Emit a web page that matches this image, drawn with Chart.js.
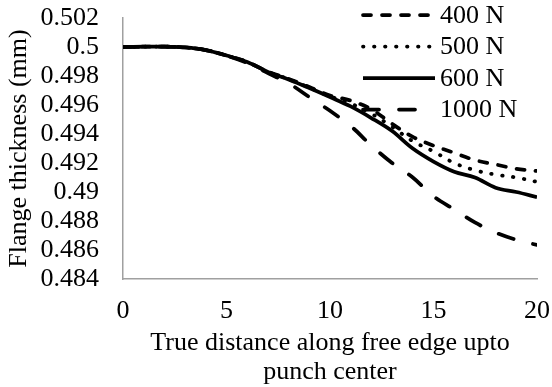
<!DOCTYPE html>
<html>
<head>
<meta charset="utf-8">
<script src="https://cdn.jsdelivr.net/npm/chart.js@4"></script>
<style>
  html, body { margin: 0; padding: 0; background: #fff; }
  #wrap { width: 552px; height: 387px; }
</style>
</head>
<body>
<div id="wrap"><canvas id="grafico"></canvas></div>
<script>
// distancia a lo largo del borde libre (mm) y espesor de pestaña (mm)
const distancia = [0, 1, 2, 3, 4, 5, 6, 7, 8, 9, 10, 11, 12, 13, 14, 15, 16, 17, 18, 19, 20];
const esp400 = [0.5, 0.50002, 0.50003, 0.49997, 0.49979, 0.49941, 0.49897, 0.4983, 0.4978, 0.49724, 0.49665,
                0.4963, 0.4957, 0.4947, 0.4938, 0.4932, 0.4927, 0.4922, 0.4919, 0.4916, 0.49145];
const esp500 = [0.5, 0.50002, 0.50003, 0.49997, 0.49979, 0.49941, 0.49897, 0.49829, 0.49778, 0.4972, 0.4966,
                0.4961, 0.4954, 0.4945, 0.4935, 0.4928, 0.492, 0.4915, 0.4912, 0.491, 0.4907];
const esp600 = [0.5, 0.50002, 0.50003, 0.49997, 0.49979, 0.49941, 0.49897, 0.49828, 0.49776, 0.49717, 0.49655,
                0.4959, 0.4951, 0.4942, 0.493, 0.4921, 0.4914, 0.491, 0.4903, 0.49, 0.48965];
const esp1000 = [0.5, 0.50002, 0.50003, 0.49997, 0.49979, 0.49941, 0.4989, 0.4982, 0.4975, 0.49655, 0.4956,
                 0.49455, 0.4932, 0.492, 0.491, 0.4897, 0.4888, 0.4879, 0.4872, 0.4867, 0.48635];

const etiquetas = ['400 N', '500 N', '600 N', '1000 N'];
const series = [esp400, esp500, esp600, esp1000];
const trazos = [[8, 11], [0.5, 10.5], [], [16, 20]];

const fuente = 'Liberation Serif, Times New Roman, serif';

function puntos(valores) {
    return distancia.map((x, i) => ({ x: x, y: valores[i] }));
}

// sin relleno automático alrededor de los ejes
function sinRelleno(scale) {
    scale.paddingTop = 0;
    scale.paddingBottom = 0;
    scale.paddingLeft = 0;
    scale.paddingRight = 0;
}

// leyenda a la derecha, encima del área del gráfico
const leyenda = {
    id: 'leyenda',
    afterDatasetsDraw(chart) {
        const ctx = chart.ctx;
        ctx.save();
        chart.data.datasets.forEach((ds, i) => {
            const y = 15 + i * 31.5;
            ctx.beginPath();
            ctx.setLineDash(ds.borderDash || []);
            ctx.lineCap = ds.borderCapStyle;
            ctx.lineWidth = ds.borderWidth;
            ctx.strokeStyle = ds.borderColor;
            ctx.moveTo(363, y);
            ctx.lineTo(435, y);
            ctx.stroke();
            ctx.setLineDash([]);
            ctx.fillStyle = '#000';
            ctx.font = '26px ' + fuente;
            ctx.textBaseline = 'middle';
            ctx.textAlign = 'left';
            ctx.fillText(ds.label, 440, y + 1);
        });
        ctx.restore();
    }
};

const ctx = document.getElementById('grafico').getContext('2d');
const chart = new Chart(ctx, {
    type: 'line',
    data: {
        datasets: series.map((s, i) => ({
            label: etiquetas[i],
            data: puntos(s),
            borderColor: '#000',
            borderWidth: 3.75,
            borderDash: trazos[i],
            borderCapStyle: i === 2 ? 'butt' : 'round',
            pointRadius: 0,
            tension: 0.35,
            fill: false
        }))
    },
    options: {
        responsive: true,
        maintainAspectRatio: false,
        animation: false,
        layout: { padding: { top: 18, right: 15, left: 0, bottom: 0 } },
        plugins: {
            legend: { display: false },
            tooltip: { enabled: false }
        },
        scales: {
            x: {
                type: 'linear',
                min: 0,
                max: 20,
                grid: { display: false, drawTicks: false },
                border: { display: true, color: '#a0a0a0', width: 1.5 },
                ticks: {
                    stepSize: 5,
                    padding: 17,
                    color: '#000',
                    font: { family: fuente, size: 26 }
                },
                title: {
                    display: true,
                    text: ['True distance along free edge upto', 'punch center'],
                    color: '#000',
                    font: { family: fuente, size: 26, lineHeight: 1.12 },
                    padding: 0
                },
                afterFit(scale) { scale.height = 108; sinRelleno(scale); }
            },
            y: {
                min: 0.484,
                max: 0.502,
                grid: { display: false, drawTicks: false },
                border: { display: true, color: '#a0a0a0', width: 1.5 },
                ticks: {
                    stepSize: 0.002,
                    autoSkip: false,
                    padding: 24,
                    color: '#000',
                    font: { family: fuente, size: 26 },
                    callback: v => String(parseFloat(v.toFixed(3)))
                },
                title: {
                    display: true,
                    text: 'Flange thickness (mm)',
                    color: '#000',
                    font: { family: fuente, size: 26 },
                    padding: { top: 4, bottom: 0 }
                },
                afterFit(scale) { scale.width = 123; sinRelleno(scale); }
            }
        }
    },
    plugins: [leyenda]
});
</script>
</body>
</html>
